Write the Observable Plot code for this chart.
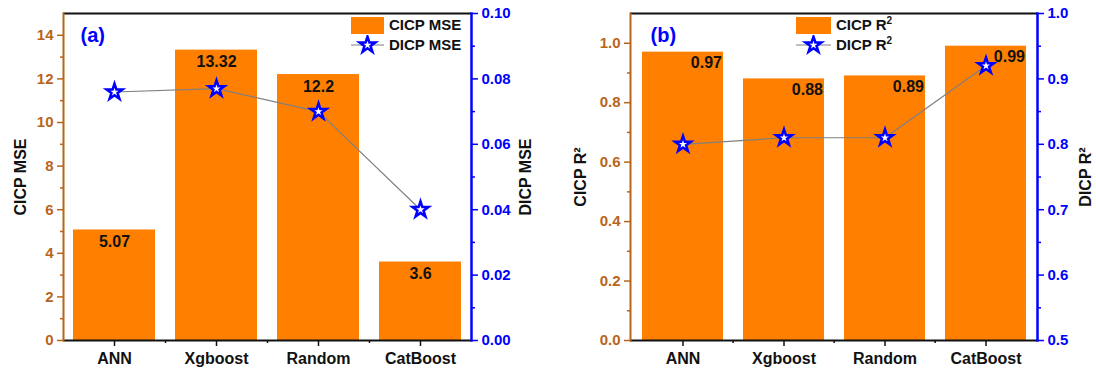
<!DOCTYPE html>
<html><head><meta charset="utf-8">
<script src="https://cdn.jsdelivr.net/npm/d3@7"></script>
<script src="https://cdn.jsdelivr.net/npm/@observablehq/plot@0.6"></script>
<style>
body{margin:0;background:#fff;font-family:"Liberation Sans",Arial,sans-serif;}
#wrap{display:flex;width:1096px;height:374px;}
.panel{position:relative;width:548px;height:374px;}
.lg{position:absolute;font:bold 15px "Liberation Sans",Arial,sans-serif;color:#111;white-space:nowrap;line-height:18px;}
</style></head><body><div id="wrap"></div>
<script>
const categories = ["ANN", "Xgboost", "Random", "CatBoost"];
const cicpMSE = [5.07, 13.32, 12.2, 3.6];
const dicpMSE = [0.076, 0.077, 0.070, 0.040];
const cicpR2 = [0.97, 0.88, 0.89, 0.99];
const dicpR2 = [0.80, 0.81, 0.81, 0.92];
const mseLabels = ["5.07", "13.32", "12.2", "3.6"];
const r2Labels = ["0.97", "0.88", "0.89", "0.99"];
const mseTicksLeft = [0, 2, 4, 6, 8, 10, 12, 14];
const mseTicksRight = [0, 0.02, 0.04, 0.06, 0.08, 0.10];
const r2TicksLeft = [0, 0.2, 0.4, 0.6, 0.8, 1.0];
const r2TicksRight = [0.5, 0.6, 0.7, 0.8, 0.9, 1.0];

const BROWN = "#b8651b", BLUE = "#0000ff", ORANGE = "#ff7f00", INK = "#111";
const FONT = '"Liberation Sans", Arial, sans-serif';
const STAR_R = 5, STAR_W = 2.5;

function panel(o) {
  const rows = categories.map((c, i) => ({cat: c, p: o.primary[i], s: o.secondary[i], lab: o.labels[i]}));
  const [p0, p1] = o.pDomain, [s0, s1] = o.sDomain;
  const toP = v => p0 + (v - s0) / (s1 - s0) * (p1 - p0);
  const W = 548;
  const step = (W - o.ml - o.mr) / categories.length;
  const pStepMinor = (o.pTicks[1] - o.pTicks[0]) / 2;
  const sStepMinor = (o.sTicks[1] - o.sTicks[0]) / 2;
  const pMinor = d3.range(o.pTicks[0] + pStepMinor, p1, pStepMinor * 2);
  const sMinor = d3.range(o.sTicks[0] + sStepMinor, s1, sStepMinor * 2);
  const plot = Plot.plot({
    width: W, height: 374,
    marginLeft: o.ml, marginRight: o.mr, marginTop: 13, marginBottom: 34,
    style: {fontFamily: FONT, fontWeight: "bold", fontSize: "15px", background: "white"},
    x: {domain: categories, paddingInner: 0.2, paddingOuter: 0.1, label: null},
    y: {domain: [p0, p1], label: null},
    marks: [
      Plot.barY(rows, {x: "cat", y: "p", fill: ORANGE}),
      Plot.line(rows, {x: "cat", y: d => toP(d.s), stroke: "#808080", strokeWidth: 1.2}),
      Plot.dot(rows, {x: "cat", y: d => toP(d.s), symbol: "star", r: STAR_R, stroke: BLUE, strokeWidth: STAR_W, fill: "white"}),
      Plot.text(rows, {x: "cat", y: "p", text: "lab", fontSize: 16, fontWeight: "bold", fill: INK, ...o.labelOpts}),
      Plot.ruleY([p1], {stroke: INK, strokeWidth: 2}),
      Plot.ruleY([p0], {stroke: INK, strokeWidth: 2}),
      Plot.frame({anchor: "left", stroke: BROWN, strokeWidth: 2}),
      Plot.frame({anchor: "right", stroke: BLUE, strokeWidth: 2.5}),
      Plot.axisY(o.pTicks, {anchor: "left", color: BROWN, tickSize: 6, tickPadding: 4, strokeWidth: 1.5, fontSize: 15, tickFormat: o.pFmt, label: null}),
      Plot.axisY(pMinor, {anchor: "left", color: BROWN, tickSize: 3, strokeWidth: 1.5, tickFormat: () => "", label: null}),
      Plot.axisY(o.sTicks, {anchor: "right", color: BLUE, y: toP, tickSize: 6, tickPadding: 4, strokeWidth: 1.5, fontSize: 15, tickFormat: o.sFmt, label: null}),
      Plot.axisY(sMinor, {anchor: "right", color: BLUE, y: toP, tickSize: 3, strokeWidth: 1.5, tickFormat: () => "", label: null}),
      Plot.axisX({anchor: "bottom", color: INK, tickSize: 6, tickPadding: 6, strokeWidth: 1.5, fontSize: 16, label: null}),
      Plot.axisX(categories.slice(1), {anchor: "bottom", color: INK, dx: -step / 2, tickSize: 3, strokeWidth: 1.5, tickFormat: () => "", label: null}),
      Plot.text([o.pTitle], {frameAnchor: "left", textAnchor: "middle", lineAnchor: "middle", rotate: -90, dx: o.pTitleDx, fontSize: 16, fontWeight: "bold", fill: INK}),
      Plot.text([o.sTitle], {frameAnchor: "right", textAnchor: "middle", lineAnchor: "middle", rotate: -90, dx: o.sTitleDx, fontSize: 16, fontWeight: "bold", fill: INK}),
      Plot.text([o.tag], {frameAnchor: "top-left", textAnchor: "start", lineAnchor: "middle", dx: o.tagDx, dy: 22, fontSize: 20, fontWeight: "bold", fill: BLUE})
    ]
  });
  const div = document.createElement("div");
  div.className = "panel";
  div.appendChild(plot);
  const star = d3.symbol(d3.symbolStar, STAR_R * STAR_R * Math.PI)();
  const lg = document.createElement("div");
  lg.innerHTML = `
    <div class="lg" style="left:${o.lgX}px;top:17px;width:${o.lgW}px;height:17px;background:${ORANGE}"></div>
    <div class="lg" style="left:${o.lgX + o.lgW + 5}px;top:16px">${o.lgA}</div>
    <svg class="lg" style="left:${o.lgX}px;top:35px" width="${o.lgW}" height="20">
      <line x1="0" x2="${o.lgW}" y1="10" y2="10" stroke="#808080" stroke-width="1.2"/>
      <path d="${star}" transform="translate(${o.lgW / 2},10)" fill="white" stroke="${BLUE}" stroke-width="${STAR_W}"/>
    </svg>
    <div class="lg" style="left:${o.lgX + o.lgW + 5}px;top:36px">${o.lgB}</div>`;
  div.appendChild(lg);
  return div;
}

const wrap = document.getElementById("wrap");
wrap.appendChild(panel({
  primary: cicpMSE, secondary: dicpMSE, labels: mseLabels,
  pDomain: [0, 15], sDomain: [0, 0.1],
  pTicks: mseTicksLeft, sTicks: mseTicksRight,
  pFmt: d3.format("d"), sFmt: d3.format(".2f"),
  ml: 63, mr: 77,
  labelOpts: {dy: 12, lineAnchor: "middle"},
  pTitle: "CICP MSE", sTitle: "DICP MSE", pTitleDx: -43, sTitleDx: 54,
  tag: "(a)", tagDx: 17,
  lgX: 351, lgW: 33, lgA: "CICP MSE", lgB: "DICP MSE"
}));
wrap.appendChild(panel({
  primary: cicpR2, secondary: dicpR2, labels: r2Labels,
  pDomain: [0, 1.1], sDomain: [0.5, 1.0],
  pTicks: r2TicksLeft, sTicks: r2TicksRight,
  pFmt: d3.format(".1f"), sFmt: d3.format(".1f"),
  ml: 82, mr: 59,
  labelOpts: {dy: 11, dx: 39, lineAnchor: "middle", textAnchor: "end"},
  pTitle: "CICP R²", sTitle: "DICP R²", pTitleDx: -50, sTitleDx: 48,
  tag: "(b)", tagDx: 20,
  lgX: 248, lgW: 35, lgA: "CICP R<sup style='font-size:10px;vertical-align:6px;line-height:0'>2</sup>", lgB: "DICP R<sup style='font-size:10px;vertical-align:6px;line-height:0'>2</sup>"
}));
</script>
</body></html>
